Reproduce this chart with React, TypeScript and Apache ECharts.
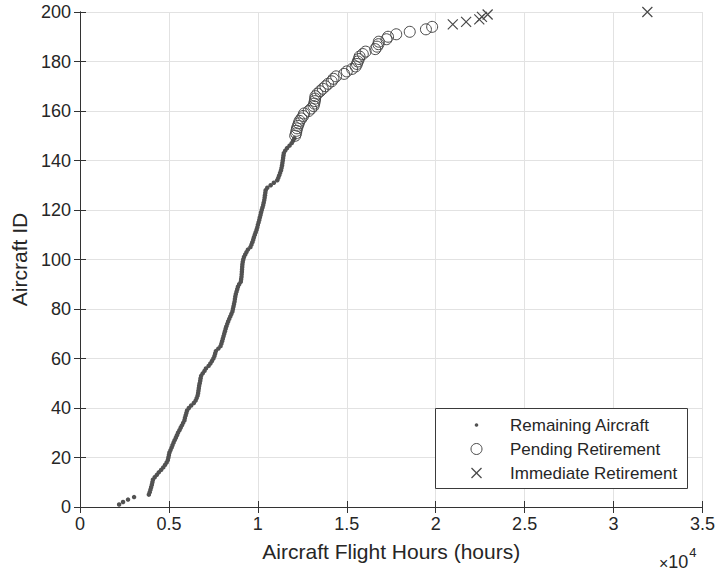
import React, { useEffect, useRef } from "react";
import * as echarts from "echarts";

// Aircraft flight hours, sorted; Aircraft ID is the position (1-based)
const remainingHours = [
  2200, 2420, 2700, 3040, 3870, 3920, 3960, 4000, 4040, 4070,
  4100, 4200, 4320, 4430, 4560, 4680, 4780, 4870, 4940, 4970,
  5000, 5030, 5090, 5150, 5200, 5260, 5320, 5390, 5450, 5510,
  5590, 5660, 5730, 5800, 5870, 5900, 5940, 5980, 6020, 6120,
  6250, 6400, 6500, 6560, 6610, 6640, 6660, 6680, 6700, 6730,
  6760, 6780, 6810, 6900, 7000, 7080, 7230, 7330, 7420, 7500,
  7560, 7600, 7640, 7780, 7900, 7950, 7990, 8030, 8070, 8110,
  8150, 8190, 8230, 8280, 8330, 8390, 8450, 8510, 8570, 8600,
  8630, 8660, 8690, 8710, 8730, 8760, 8800, 8840, 8880, 8950,
  9040, 9060, 9080, 9090, 9100, 9110, 9120, 9130, 9150, 9180,
  9220, 9290, 9360, 9440, 9580, 9640, 9690, 9740, 9780, 9830,
  9880, 9930, 9970, 10000, 10040, 10080, 10110, 10150, 10180, 10220,
  10260, 10300, 10330, 10360, 10380, 10400, 10420, 10440, 10530, 10720,
  10900, 11090, 11150, 11200, 11250, 11300, 11330, 11360, 11380, 11400,
  11420, 11440, 11460, 11540, 11640, 11780, 11900, 11980, 12050,
];
const pendingHours = [
  12100, 12150, 12170, 12200, 12250, 12300, 12350, 12450, 12550, 12600,
  12860, 13000, 13130, 13170, 13200, 13220, 13240, 13350, 13500, 13650,
  13800, 13950, 14150, 14250, 14400, 14850, 15000, 15300, 15500, 15570,
  15620, 15680, 15720, 15900, 16060, 16600, 16700, 16780, 16800, 17230,
  17320, 17780, 18540, 19450, 19800,
];
const immediateHours = [20960, 21710, 22450, 22600, 22920, 31900];

const xTicks = [0, 5000, 10000, 15000, 20000, 25000, 30000, 35000];
const yTicks = [0, 20, 40, 60, 80, 100, 120, 140, 160, 180, 200];

const seriesNames = ["Remaining Aircraft", "Pending Retirement", "Immediate Retirement"];

const FONT = "'Liberation Sans', Arial, Helvetica, sans-serif";
const AXIS = "#333333";
const TEXT = "#262626";
const MARK = "#525252";

const CROSS = "path://M0,0L10,10M10,0L0,10";

export default function App() {
  const ref = useRef<HTMLDivElement>(null);
  useEffect(() => {
    if (!ref.current) return;
    const chart = echarts.init(ref.current, undefined, { renderer: "svg" });

    let id = 0;
    const remData = remainingHours.map((h) => [h, ++id]);
    const penData = pendingHours.map((h) => [h, ++id]);
    const immData = immediateHours.map((h) => [h, ++id]);

    const xMin = xTicks[0];
    const xMax = xTicks[xTicks.length - 1];
    const yMin = yTicks[0];
    const yMax = yTicks[yTicks.length - 1];

    const baseX = {
      type: "value" as const,
      min: xMin,
      max: xMax,
      interval: 5000,
      axisLine: { show: true, lineStyle: { color: AXIS, width: 1 } },
      axisTick: { show: true, inside: true, length: 6, lineStyle: { color: AXIS } },
    };
    const baseY = {
      type: "value" as const,
      min: yMin,
      max: yMax,
      interval: 20,
      axisLine: { show: true, lineStyle: { color: AXIS, width: 1 } },
      axisTick: { show: true, inside: true, length: 6, lineStyle: { color: AXIS } },
    };

    // legend drawn as graphic elements
    const LX = 435.5, LY = 408.5, LW = 252, LH = 80;
    const iconX = 476.5, textX = 510;
    const rows = [425, 449, 473];

    chart.setOption({
      animation: false,
      backgroundColor: "#ffffff",
      textStyle: { fontFamily: FONT },
      grid: { left: 80, right: 12, top: 12, bottom: 66, containLabel: false },
      xAxis: [
        {
          ...baseX,
          position: "bottom",
          name: "Aircraft Flight Hours (hours)",
          nameLocation: "middle",
          nameGap: 34,
          nameTextStyle: { color: TEXT, fontSize: 21, fontFamily: FONT },
          axisLabel: {
            color: TEXT,
            fontSize: 18,
            fontFamily: FONT,
            margin: 8,
            formatter: (v: number) => String(v / 10000),
          },
          splitLine: { show: true, lineStyle: { color: "#e2e2e2", width: 1 } },
        },
        {
          ...baseX,
          position: "top",
          axisLabel: { show: false },
          splitLine: { show: false },
        },
      ],
      yAxis: [
        {
          ...baseY,
          position: "left",
          name: "Aircraft ID",
          nameLocation: "middle",
          nameGap: 46,
          nameTextStyle: { color: TEXT, fontSize: 21, fontFamily: FONT },
          axisLabel: { color: TEXT, fontSize: 18, fontFamily: FONT, margin: 9 },
          splitLine: { show: true, lineStyle: { color: "#e2e2e2", width: 1 } },
        },
        {
          ...baseY,
          position: "right",
          axisLabel: { show: false },
          splitLine: { show: false },
        },
      ],
      series: [
        {
          name: seriesNames[0],
          type: "scatter",
          data: remData,
          symbol: "circle",
          symbolSize: 4.5,
          itemStyle: { color: MARK, borderWidth: 0, opacity: 1 },
          z: 3,
        },
        {
          name: seriesNames[1],
          type: "scatter",
          data: penData,
          symbol: "circle",
          symbolSize: 11,
          itemStyle: { color: "rgba(0,0,0,0)", borderColor: "#484848", borderWidth: 1, opacity: 1 },
          z: 3,
        },
        {
          name: seriesNames[2],
          type: "scatter",
          data: immData,
          symbol: CROSS,
          symbolSize: 10,
          itemStyle: { color: "none", borderColor: "#484848", borderWidth: 1.2, opacity: 1 },
          z: 3,
        },
      ],
      graphic: [
        {
          type: "rect",
          z: 100,
          shape: { x: LX, y: LY, width: LW, height: LH },
          style: { fill: "#ffffff", stroke: "#3a3a3a", lineWidth: 1 },
        },
        {
          type: "circle",
          z: 101,
          shape: { cx: iconX, cy: rows[0], r: 1.8 },
          style: { fill: MARK },
        },
        {
          type: "circle",
          z: 101,
          shape: { cx: iconX, cy: rows[1], r: 5.5 },
          style: { fill: "none", stroke: "#484848", lineWidth: 1 },
        },
        {
          type: "line",
          z: 101,
          shape: { x1: iconX - 5, y1: rows[2] - 5, x2: iconX + 5, y2: rows[2] + 5 },
          style: { stroke: "#484848", lineWidth: 1.2 },
        },
        {
          type: "line",
          z: 101,
          shape: { x1: iconX + 5, y1: rows[2] - 5, x2: iconX - 5, y2: rows[2] + 5 },
          style: { stroke: "#484848", lineWidth: 1.2 },
        },
        ...seriesNames.map((n, i) => ({
          type: "text",
          z: 101,
          x: textX,
          y: rows[i],
          style: {
            text: n,
            fill: TEXT,
            fontSize: 17,
            fontFamily: FONT,
            verticalAlign: "middle",
            align: "left",
          },
        })),
        {
          type: "text",
          x: 659,
          y: 546,
          style: {
            text: "{a|×}{b|10}{c|4}",
            fill: TEXT,
            rich: {
              a: { fontSize: 16, fontFamily: FONT, fill: TEXT, verticalAlign: "bottom" },
              b: { fontSize: 18, fontFamily: FONT, fill: TEXT, verticalAlign: "bottom" },
              c: { fontSize: 13, fontFamily: FONT, fill: TEXT, verticalAlign: "top", padding: [0, 0, 12, 1] },
            },
          },
        },
      ],
    });
    return () => chart.dispose();
  }, []);

  return (
    <div
      ref={ref}
      style={{ position: "fixed", left: 0, top: 0, width: 718, height: 573 }}
    />
  );
}
